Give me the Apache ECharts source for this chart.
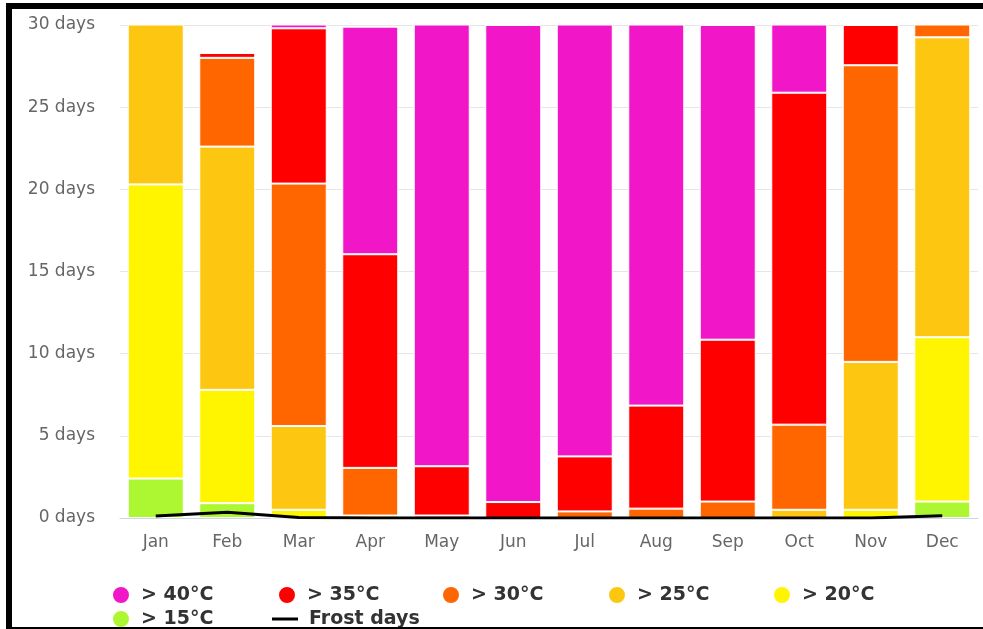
<!DOCTYPE html>
<html>
<head>
<meta charset="utf-8">
<script src="https://cdn.jsdelivr.net/npm/echarts@6/dist/echarts.min.js"></script>
<style>
html,body{margin:0;padding:0;background:#fff;}
#chart{width:983px;height:629px;}
</style>
</head>
<body>
<div id="chart"></div>
<script>
var months = ['Jan','Feb','Mar','Apr','May','Jun','Jul','Aug','Sep','Oct','Nov','Dec'];
var yTicks = [0, 5, 10, 15, 20, 25, 30];
// days per class (disjoint, stacked bottom to top)
var d15 = [2.4, 0.9, 0, 0, 0, 0, 0, 0, 0, 0, 0, 1.0];
var d20 = [17.9, 6.9, 0.5, 0, 0, 0, 0, 0, 0, 0, 0.5, 10.0];
var d25 = [10.7, 14.8, 5.1, 0.15, 0, 0, 0, 0, 0, 0.5, 9.0, 18.25];
var d30 = [0, 5.4, 14.75, 2.9, 0.15, 0, 0.4, 0.57, 1.0, 5.18, 18.05, 1.75];
var d35 = [0, 0.3, 9.45, 13.0, 3.0, 0.97, 3.35, 6.27, 9.85, 20.2, 2.45, 0];
var d40 = [0, 0, 1.2, 13.85, 27.85, 29.03, 27.25, 24.16, 19.15, 5.12, 0, 0];
var frost = [0.12, 0.35, 0.03, 0, 0, 0, 0, 0, 0, 0, 0, 0.14];

var names = ['> 15°C', '> 20°C', '> 25°C', '> 30°C', '> 35°C', '> 40°C'];
var colors = ['#adf732', '#fff500', '#fdc711', '#ff6600', '#ff0000', '#f117c8'];
var values = [d15, d20, d25, d30, d35, d40];

var series = names.map(function (n, i) {
  return {
    name: n, type: 'bar', stack: 'days', data: values[i],
    barWidth: 56,
    itemStyle: { color: colors[i], borderColor: '#ffffff', borderWidth: 1 },
    emphasis: { disabled: true }
  };
});
series.push({
  name: 'Frost days', type: 'line', data: frost, symbol: 'none', showSymbol: false,
  z: 5, lineStyle: { color: '#000000', width: 3 }, itemStyle: { color: '#000000' }
});

var legTxt = { fontFamily: 'DejaVu Sans', fontSize: 19, fontWeight: 'bold', color: '#333333', lineHeight: 20, padding: [0, 0, 0, 6] };
function leg(name, left, top, opts) {
  var o = {
    data: [name], left: left, top: top, padding: 0, orient: 'horizontal',
    icon: 'circle', itemWidth: 18, itemHeight: 18, selectedMode: false,
    textStyle: legTxt
  };
  for (var k in opts) o[k] = opts[k];
  return o;
}

var chart = echarts.init(document.getElementById('chart'), null, { renderer: 'canvas' });
chart.setOption({
  backgroundColor: '#ffffff',
  animation: false,
  textStyle: { fontFamily: 'DejaVu Sans' },
  grid: { left: 120, right: 5, top: 25, bottom: 111, containLabel: false },
  xAxis: {
    type: 'category', data: months,
    axisLine: { lineStyle: { color: '#ccd6eb', width: 1 } },
    axisTick: { show: false },
    axisLabel: { color: '#666666', fontSize: 17, fontFamily: 'DejaVu Sans', margin: 16 }
  },
  yAxis: {
    type: 'value', min: yTicks[0], max: yTicks[yTicks.length - 1], interval: yTicks[1] - yTicks[0],
    axisLine: { show: false }, axisTick: { show: false },
    splitLine: { lineStyle: { color: '#e6e6e6', width: 1 } },
    axisLabel: { color: '#666666', fontSize: 17, fontFamily: 'DejaVu Sans', margin: 25, formatter: '{value} days' }
  },
  legend: [
    leg('> 40°C', 111, 585),
    leg('> 35°C', 277, 585),
    leg('> 30°C', 441, 585),
    leg('> 25°C', 607, 585),
    leg('> 20°C', 772, 585),
    leg('> 15°C', 111, 609),
    leg('Frost days', 272, 609, { icon: 'rect', itemWidth: 26, itemHeight: 3, itemStyle: { color: '#000000', borderWidth: 0 } })
  ],
  graphic: [
    { type: 'rect', z: 100, shape: { x: 6, y: 3, width: 977, height: 6 }, style: { fill: '#000' } },
    { type: 'rect', z: 100, shape: { x: 6, y: 3, width: 6, height: 626 }, style: { fill: '#000' } },
    { type: 'rect', z: 100, shape: { x: 6, y: 627, width: 977, height: 2 }, style: { fill: '#000' } }
  ],
  series: series
});
</script>
</body>
</html>
